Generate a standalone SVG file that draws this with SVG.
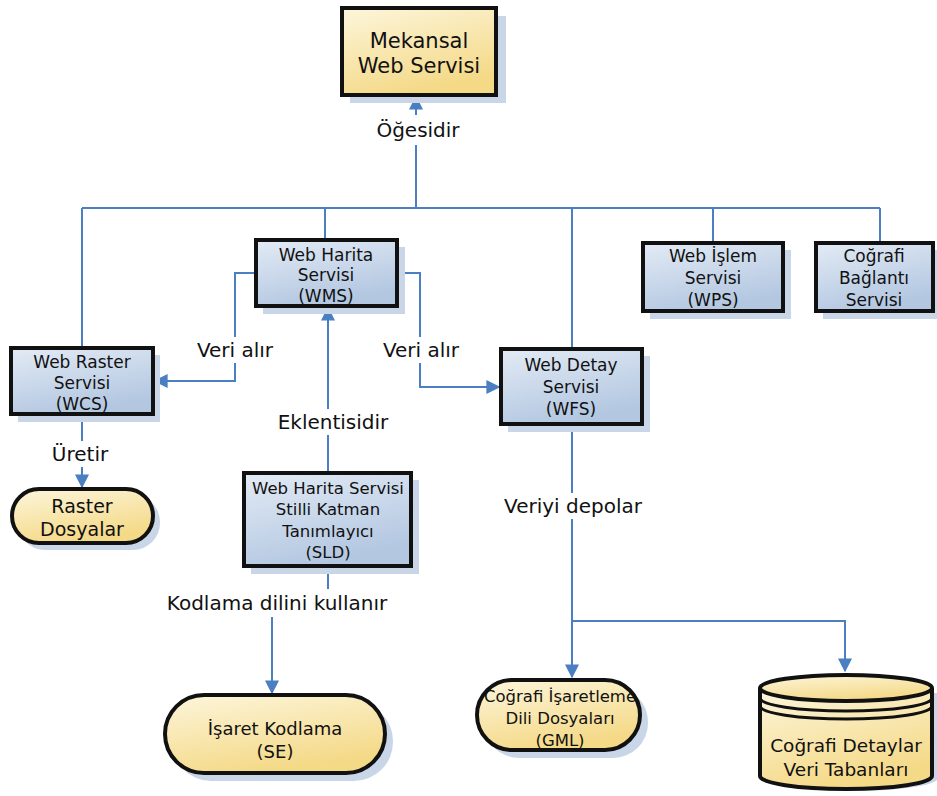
<svg xmlns="http://www.w3.org/2000/svg" width="937" height="796" viewBox="0 0 937 796">
<defs>
<linearGradient id="gb" x1="0" y1="0" x2="0.4" y2="1">
<stop offset="0" stop-color="#e3ebf5"/><stop offset="1" stop-color="#b3c7e1"/>
</linearGradient>
<linearGradient id="gy" x1="0" y1="0" x2="0.4" y2="1">
<stop offset="0" stop-color="#fdf6dc"/><stop offset="1" stop-color="#f4d987"/>
</linearGradient>
<marker id="ah" viewBox="0 0 10 10" refX="9" refY="5" markerWidth="14" markerHeight="14" markerUnits="userSpaceOnUse" orient="auto">
<path d="M0,0 L10,5 L0,10 z" fill="#4a7fc1"/>
</marker>
</defs>
<style>
.box{fill:url(#gb);stroke:#111;stroke-width:4}
.ybox{fill:url(#gy);stroke:#111;stroke-width:4}
.sh{fill:#c9d6e8}
.t{font-family:"DejaVu Sans",Verdana,sans-serif;font-size:17px;fill:#111;text-anchor:middle}
.tl{font-family:"DejaVu Sans",Verdana,sans-serif;font-size:20px;fill:#111;text-anchor:middle}
.c{fill:none;stroke:#4a7fc1;stroke-width:2}
.lb{fill:#fff}
</style>
<rect width="937" height="796" fill="#fff"/>
<g id="connectors">
<path class="c" d="M82,208 H880"/>
<path class="c" d="M416,208 V97" marker-end="url(#ah)"/>
<path class="c" d="M82,208 V348"/>
<path class="c" d="M325,208 V240"/>
<path class="c" d="M572,208 V349"/>
<path class="c" d="M713,208 V243"/>
<path class="c" d="M880,208 V243"/>
<path class="c" d="M256,273 H235 V381 H155" marker-end="url(#ah)"/>
<path class="c" d="M397,273 H420 V387 H499" marker-end="url(#ah)"/>
<path class="c" d="M328,473 V308" marker-end="url(#ah)"/>
<path class="c" d="M82,414 V487" marker-end="url(#ah)"/>
<path class="c" d="M328,566 V603 H272 V693" marker-end="url(#ah)"/>
<path class="c" d="M572,424 V677" marker-end="url(#ah)"/>
<path class="c" d="M572,621 H845 V671" marker-end="url(#ah)"/>
<rect class="lb" x="370" y="115" width="96" height="30"/>
<text class="tl" x="418" y="137">Öğesidir</text>
<rect class="lb" x="186" y="337" width="98" height="26"/>
<text class="tl" x="235" y="357">Veri alır</text>
<rect class="lb" x="372" y="337" width="98" height="26"/>
<text class="tl" x="421" y="357">Veri alır</text>
<rect class="lb" x="268" y="409" width="130" height="26"/>
<text class="tl" x="333" y="429">Eklentisidir</text>
<rect class="lb" x="42" y="441" width="78" height="26"/>
<text class="tl" x="80" y="461">Üretir</text>
<rect class="lb" x="492" y="493" width="162" height="26"/>
<text class="tl" x="573" y="513">Veriyi depolar</text>
<rect class="lb" x="160" y="589" width="234" height="28"/>
<text class="tl" x="277" y="610">Kodlama dilini kullanır</text>
</g>
<g id="mekansal">
<rect class="sh" x="350" y="16" width="156" height="87"/>
<rect class="ybox" x="342" y="8" width="154" height="87"/>
<text class="t" style="font-size:21px" x="419" y="48">Mekansal</text>
<text class="t" style="font-size:21px" x="419" y="73">Web Servisi</text>
</g>
<g id="wms">
<rect class="sh" x="263" y="247" width="142" height="67"/>
<rect class="box" x="256" y="240" width="141" height="66"/>
<text class="t" x="326" y="261">Web Harita</text>
<text class="t" x="326" y="281">Servisi</text>
<text class="t" x="326" y="302">(WMS)</text>
</g>
<g id="wcs">
<rect class="sh" x="18" y="355" width="142" height="67"/>
<rect class="box" x="11" y="348" width="142" height="66"/>
<text class="t" x="82" y="368">Web Raster</text>
<text class="t" x="82" y="389">Servisi</text>
<text class="t" x="82" y="410">(WCS)</text>
</g>
<g id="wfs">
<rect class="sh" x="508" y="356" width="142" height="76"/>
<rect class="box" x="501" y="349" width="141" height="75"/>
<text class="t" x="571" y="371">Web Detay</text>
<text class="t" x="571" y="393">Servisi</text>
<text class="t" x="571" y="415">(WFS)</text>
</g>
<g id="wps">
<rect class="sh" x="650" y="250" width="141" height="69"/>
<rect class="box" x="643" y="243" width="140" height="68"/>
<text class="t" x="713" y="262">Web İşlem</text>
<text class="t" x="713" y="284">Servisi</text>
<text class="t" x="713" y="306">(WPS)</text>
</g>
<g id="cbs">
<rect class="sh" x="823" y="250" width="118" height="69"/>
<rect class="box" x="816" y="243" width="117" height="68"/>
<text class="t" x="874" y="262">Coğrafi</text>
<text class="t" x="874" y="284">Bağlantı</text>
<text class="t" x="874" y="306">Servisi</text>
</g>
<g id="sld">
<rect class="sh" x="251" y="480" width="168" height="94"/>
<rect class="box" x="244" y="473" width="167" height="93"/>
<text class="t" style="font-size:16.5px" x="328" y="494">Web Harita Servisi</text>
<text class="t" style="font-size:16.5px" x="328" y="515">Stilli Katman</text>
<text class="t" style="font-size:16.5px" x="328" y="537">Tanımlayıcı</text>
<text class="t" style="font-size:16.5px" x="328" y="558">(SLD)</text>
</g>
<g id="raster">
<rect class="sh" x="18" y="495" width="142" height="55" rx="27"/>
<rect class="ybox" x="12" y="489" width="141" height="54" rx="27"/>
<text class="t" style="font-size:19px" x="82" y="513">Raster</text>
<text class="t" style="font-size:19px" x="82" y="536">Dosyalar</text>
</g>
<g id="se">
<rect class="sh" x="172" y="702" width="221" height="79" rx="39"/>
<rect class="ybox" x="165" y="695" width="220" height="78" rx="39"/>
<text class="t" style="font-size:18px" x="275" y="735">İşaret Kodlama</text>
<text class="t" style="font-size:18px" x="275" y="758">(SE)</text>
</g>
<g id="gml">
<rect class="sh" x="484" y="687" width="164" height="71" rx="35"/>
<rect class="ybox" x="477" y="680" width="163" height="70" rx="35"/>
<text class="t" style="font-size:16.5px" x="560" y="702">Coğrafi İşaretleme</text>
<text class="t" style="font-size:16.5px" x="560" y="724">Dili Dosyaları</text>
<text class="t" style="font-size:16.5px" x="560" y="746">(GML)</text>
</g>
<g id="db">
<path class="sh" d="M766,693 V778 A86,13 0 0 0 938,778 V693 Z"/>
<path class="ybox" d="M760,688 V776 A86,13 0 0 0 932,776 V688"/>
<ellipse class="ybox" cx="846" cy="688" rx="86" ry="13"/>
<path d="M760,698 A86,13 0 0 0 932,698 M760,706 A86,13 0 0 0 932,706" fill="none" stroke="#111" stroke-width="3"/>
<text class="t" style="font-size:18.5px" x="846" y="752">Coğrafi Detaylar</text>
<text class="t" style="font-size:18.5px" x="846" y="776">Veri Tabanları</text>
</g>
</svg>
